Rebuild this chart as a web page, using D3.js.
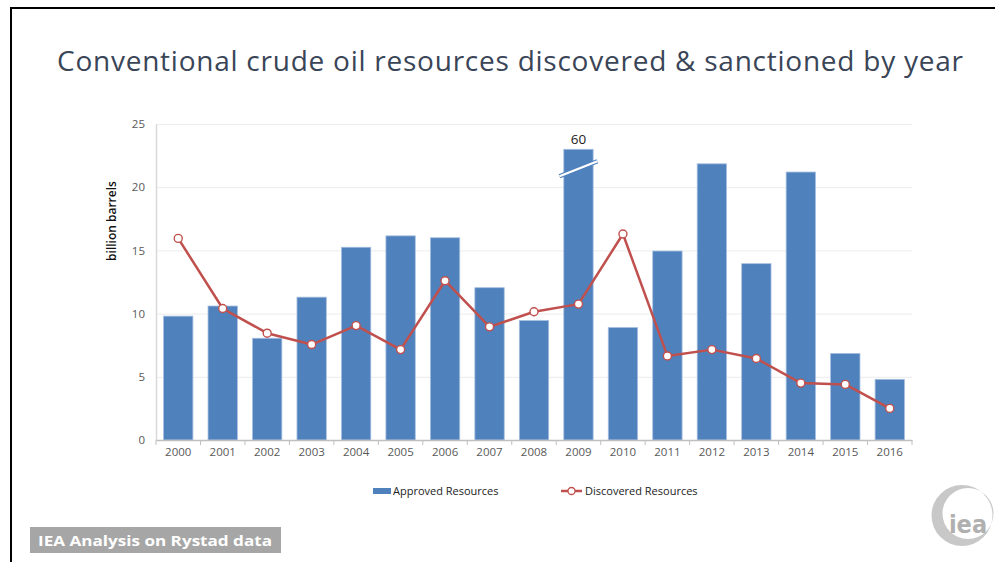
<!DOCTYPE html>
<html>
<head>
<meta charset="utf-8">
<script src="https://cdn.jsdelivr.net/npm/d3@7"></script>
<style>
  html, body { margin: 0; padding: 0; background: #fff; }
  svg { display: block; }
</style>
</head>
<body>
<svg id="chart" width="995" height="562"></svg>
<script>
// Oil resources by year (billion barrels)
const years = ["2000","2001","2002","2003","2004","2005","2006","2007","2008",
               "2009","2010","2011","2012","2013","2014","2015","2016"];
const approved = [9.8, 10.6, 8.05, 11.3, 15.25, 16.15, 16.0, 12.05, 9.45,
                  60, 8.9, 14.95, 21.85, 13.95, 21.2, 6.85, 4.8];
const discovered = [15.95, 10.4, 8.45, 7.55, 9.05, 7.15, 12.6, 8.95, 10.15,
                    10.75, 16.3, 6.65, 7.15, 6.45, 4.5, 4.4, 2.5];
const yTicks = [0, 5, 10, 15, 20, 25];
const seriesNames = ["Approved Resources", "Discovered Resources"];

const title = "Conventional crude oil resources discovered & sanctioned by year";
const yLabel = "billion barrels";
const sourceNote = "IEA Analysis on Rystad data";

// Bars taller than the axis are cut at this value and marked with a break
const breakAt = 23;

const FONT = "'Open Sans', 'Noto Sans', sans-serif";
const BAR = "#4f81bd", LINE = "#c0504d";

const svg = d3.select("#chart");
const plot = { left: 156, right: 912, top: 124, bottom: 440 };

const x = d3.scaleBand().domain(years).range([plot.left, plot.right]).paddingInner(0.34).paddingOuter(0.17);
const xc = d3.scaleBand().domain(years).range([plot.left, plot.right]);
const y = d3.scaleLinear().domain([0, 25]).range([plot.bottom, plot.top]);

// Slide frame
svg.append("line").attr("x1", 11).attr("x2", 995).attr("y1", 8).attr("y2", 8)
  .attr("stroke", "#000").attr("stroke-width", 2);
svg.append("line").attr("x1", 11).attr("x2", 11).attr("y1", 7).attr("y2", 562)
  .attr("stroke", "#000").attr("stroke-width", 2);

// Title
svg.append("text").attr("x", 57).attr("y", 71)
  .attr("font-family", "'Open Sans', sans-serif").attr("font-size", 28)
  .attr("fill", "#3a4557").text(title)
  .attr("textLength", 906).attr("lengthAdjust", "spacing");

// Gridlines
svg.append("g").selectAll("line").data(yTicks.filter(d => d > 0)).join("line")
  .attr("x1", plot.left).attr("x2", plot.right)
  .attr("y1", d => y(d) + 0.5).attr("y2", d => y(d) + 0.5)
  .attr("stroke", "#ececec").attr("stroke-width", 1);

// Y axis
const yAxis = svg.append("g").attr("transform", `translate(${plot.left},0)`)
  .call(d3.axisLeft(y).tickValues(yTicks).tickSize(0).tickPadding(11));
yAxis.select(".domain").attr("stroke", "#d9d9d9").attr("stroke-width", 1.5);
yAxis.selectAll("text").attr("font-family", FONT).attr("font-size", 11.5).attr("fill", "#595959");

// Y axis label
svg.append("text")
  .attr("transform", `translate(116,221) rotate(-90)`)
  .attr("text-anchor", "middle")
  .attr("font-family", FONT).attr("font-size", 12).attr("font-weight", 600)
  .attr("fill", "#111").text(yLabel);

// Bars
svg.append("g").selectAll("rect").data(years).join("rect")
  .attr("x", d => x(d))
  .attr("width", x.bandwidth())
  .attr("y", (d, i) => y(Math.min(approved[i], breakAt)))
  .attr("height", (d, i) => y(0) - y(Math.min(approved[i], breakAt)))
  .attr("fill", BAR).attr("stroke", "#a7bfe0").attr("stroke-width", 0.8);

// Axis break + value label for bars above breakAt
years.forEach((d, i) => {
  if (approved[i] <= breakAt) return;
  const cx = x(d) + x.bandwidth() / 2;
  const yb = y(breakAt) + 20;
  const g = svg.append("g");
  g.append("line").attr("x1", cx - 19).attr("y1", yb + 7).attr("x2", cx + 19).attr("y2", yb - 8)
    .attr("stroke", BAR).attr("stroke-width", 4.5);
  g.append("line").attr("x1", cx - 19).attr("y1", yb + 7).attr("x2", cx + 19).attr("y2", yb - 8)
    .attr("stroke", "#fff").attr("stroke-width", 2.2);
  svg.append("text").attr("x", cx).attr("y", y(breakAt) - 5)
    .attr("text-anchor", "middle").attr("font-family", FONT).attr("font-size", 13.5)
    .attr("font-weight", 500).attr("fill", "#1a1a1a").text(approved[i]);
});

// X axis
const xAxis = svg.append("g").attr("transform", `translate(0,${plot.bottom})`)
  .call(d3.axisBottom(xc).tickSize(0).tickPadding(8));
xAxis.select(".domain").attr("stroke", "#bfbfbf").attr("stroke-width", 1.5);
xAxis.selectAll("text").attr("font-family", FONT).attr("font-size", 11.5).attr("fill", "#595959");
svg.append("g").selectAll("line").data(years.concat(["end"])).join("line")
  .attr("x1", (d, i) => plot.left + i * xc.step()).attr("x2", (d, i) => plot.left + i * xc.step())
  .attr("y1", plot.bottom).attr("y2", plot.bottom + 5)
  .attr("stroke", "#bfbfbf").attr("stroke-width", 1);

// Discovered line
const line = d3.line().x((d, i) => xc(years[i]) + xc.bandwidth() / 2).y(d => y(d));
svg.append("path").datum(discovered).attr("d", line)
  .attr("fill", "none").attr("stroke", LINE).attr("stroke-width", 2.5).attr("stroke-linejoin", "round");
svg.append("g").selectAll("circle").data(discovered).join("circle")
  .attr("cx", (d, i) => xc(years[i]) + xc.bandwidth() / 2).attr("cy", d => y(d))
  .attr("r", 4).attr("fill", "#fff").attr("stroke", LINE).attr("stroke-width", 1.4);

// Legend
const lg = svg.append("g").attr("font-family", FONT).attr("font-size", 11).attr("fill", "#222");
lg.append("rect").attr("x", 373).attr("y", 488).attr("width", 18).attr("height", 6).attr("fill", BAR);
lg.append("text").attr("x", 393).attr("y", 495).text(seriesNames[0]);
lg.append("line").attr("x1", 561).attr("x2", 582).attr("y1", 491).attr("y2", 491)
  .attr("stroke", LINE).attr("stroke-width", 2.5);
lg.append("circle").attr("cx", 571.5).attr("cy", 491).attr("r", 3.5)
  .attr("fill", "#fff").attr("stroke", LINE).attr("stroke-width", 1.3);
lg.append("text").attr("x", 585).attr("y", 495).text(seriesNames[1]);

// Source note
svg.append("rect").attr("x", 30).attr("y", 527).attr("width", 251).attr("height", 26).attr("fill", "#a6a6a6");
svg.append("text").attr("x", 38).attr("y", 546)
  .attr("font-family", FONT).attr("font-size", 15).attr("font-weight", 700)
  .attr("fill", "#fff").text(sourceNote).attr("textLength", 234).attr("lengthAdjust", "spacingAndGlyphs");

// Logo: crescent ring with wordmark
const ring = d3.path();
ring.arc(962, 515.5, 30.5, 0, 2 * Math.PI);
ring.moveTo(968 + 25.5, 513.5);
ring.arc(968, 513.5, 25.5, 0, 2 * Math.PI);
const logo = svg.append("g");
logo.append("path").attr("d", ring.toString())
  .attr("fill", "#c8c8c8").attr("fill-rule", "evenodd");
logo.append("text").attr("x", 968).attr("y", 533).attr("text-anchor", "middle")
  .attr("font-family", "'DejaVu Sans Condensed', 'DejaVu Sans', sans-serif").attr("font-weight", 700)
  .attr("font-size", 25).attr("fill", "#b0b0b0").text("iea");
</script>
</body>
</html>
